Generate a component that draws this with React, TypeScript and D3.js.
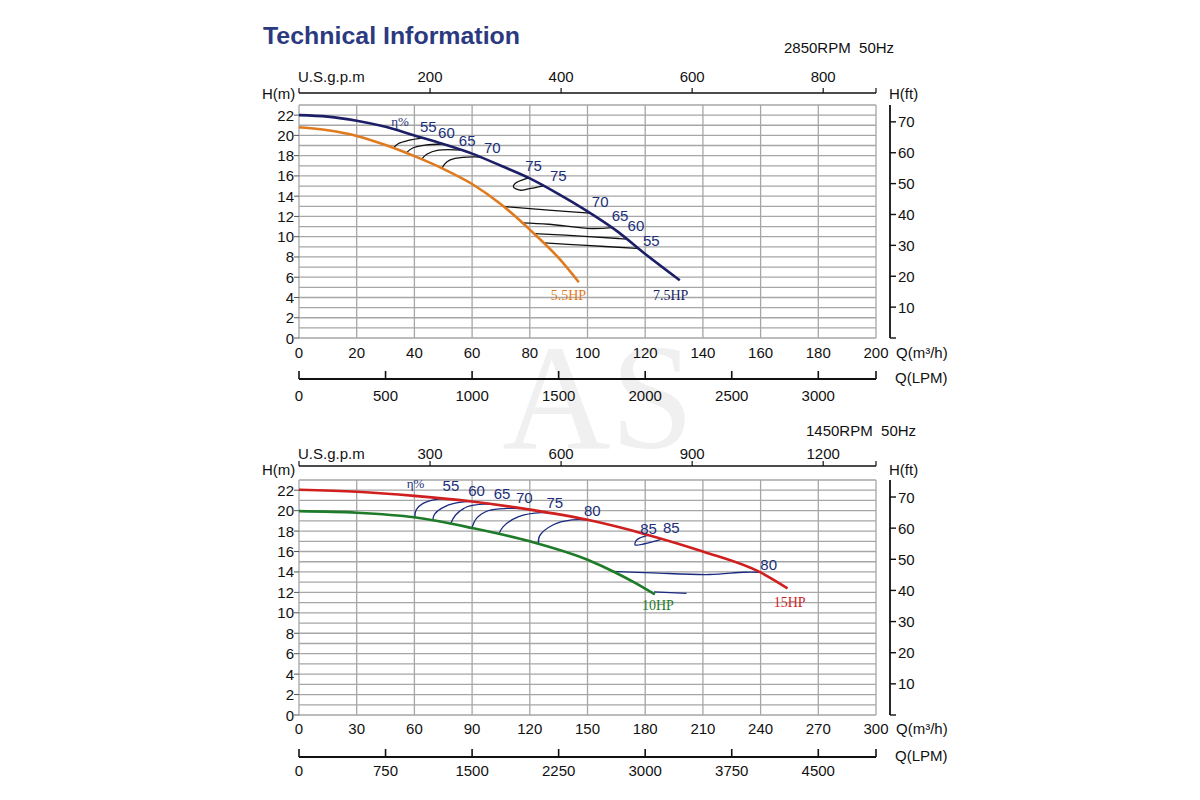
import React, { useEffect, useRef } from 'react';
import * as d3 from 'd3';

const GPM_PER_M3H = 4.4029;
const LPM_PER_M3H = 16.667;
const FT_PER_M = 1 / 0.3048;

// shared axis values
const headTicks = [0, 2, 4, 6, 8, 10, 12, 14, 16, 18, 20, 22];
const ftTicks = [10, 20, 30, 40, 50, 60, 70];

// 2850RPM panel
const topQTicks = [0, 20, 40, 60, 80, 100, 120, 140, 160, 180, 200];
const topGpmTicks = [200, 400, 600, 800];
const topLpmTicks = [0, 500, 1000, 1500, 2000, 2500, 3000];

const curve55HP = [[0, 20.8], [10, 20.5], [20, 19.95], [30, 19.05], [40, 17.95], [50, 16.7], [60, 15.2], [70, 13.2], [80, 10.7], [90, 7.9], [97, 5.5]];
const curve75HP = [[0, 22], [10, 21.85], [20, 21.45], [30, 20.85], [40, 20.0], [50, 19.15], [60, 18.2], [70, 17.0], [80, 15.75], [90, 14.2], [100, 12.5], [110, 10.6], [120, 8.3], [132, 5.7]];

const topIso55L = [[32.7, 18.75], [34.5, 19.2], [37.9, 19.5], [43.1, 19.75]];
const topIso60L = [[37.3, 18.3], [39.1, 18.71], [43.7, 19.03], [50.1, 19.15]];
const topIso65L = [[42.5, 17.65], [44.3, 18.14], [48.3, 18.54], [56.4, 18.55]];
const topIso70L = [[49.5, 16.75], [51.2, 17.38], [54.1, 17.72], [61.0, 17.88], [63.4, 17.8]];
const topIso75 = [[79.5, 15.8], [74.9, 15.25], [74.3, 14.92], [76.6, 14.59], [79.5, 14.72], [84.7, 15.02]];
const topIso70R = [[70.9, 12.98], [86.5, 12.62], [100.9, 12.33]];
const topIso65R = [[77.2, 11.37], [86.5, 11.23], [101.5, 10.81], [108.4, 10.9]];
const topIso60R = [[81.6, 10.3], [92.3, 10.15], [110.8, 9.82], [113.6, 9.77]];
const topIso55R = [[85.1, 9.4], [98, 9.16], [117.1, 8.85], [117.7, 8.83]];

const topEffLabels = [
  { t: 'η%', q: 35, h: 21.4 },
  { t: '55', q: 44.8, h: 20.84 },
  { t: '60', q: 51.1, h: 20.25 },
  { t: '65', q: 58.3, h: 19.53 },
  { t: '70', q: 67.0, h: 18.77 },
  { t: '75', q: 81.3, h: 17.06 },
  { t: '75', q: 89.9, h: 16.0 },
  { t: '70', q: 104.4, h: 13.44 },
  { t: '65', q: 111.3, h: 12.12 },
  { t: '60', q: 116.8, h: 11.07 },
  { t: '55', q: 122.1, h: 9.65 },
];

// 1450RPM panel
const botQTicks = [0, 30, 60, 90, 120, 150, 180, 210, 240, 270, 300];
const botGpmTicks = [300, 600, 900, 1200];
const botLpmTicks = [0, 750, 1500, 2250, 3000, 3750, 4500];

const curve10HP = [[0, 19.95], [30, 19.8], [60, 19.35], [90, 18.3], [120, 17.0], [150, 15.2], [165, 13.9], [175, 12.9], [185, 11.8]];
const curve15HP = [[0, 22.05], [30, 21.85], [60, 21.45], [90, 20.9], [120, 20.1], [150, 19.1], [180, 17.7], [210, 16.0], [240, 13.95], [254, 12.4]];

const botIso55 = [[60.2, 19.35], [60.9, 20.06], [64.5, 20.71], [72.5, 21.13], [80.4, 21.12]];
const botIso60 = [[69.5, 19.05], [70.5, 19.67], [76.4, 20.45], [84.4, 20.83], [90.3, 20.9]];
const botIso65 = [[78.8, 18.7], [81.4, 19.57], [87.4, 20.38], [96.3, 20.64], [104.2, 20.55]];
const botIso70 = [[89.9, 18.3], [92.3, 19.25], [98.3, 19.99], [108.2, 20.22], [115.1, 20.2]];
const botIso75 = [[103.8, 17.7], [106.2, 18.44], [114.2, 19.41], [126.1, 19.8], [134, 19.7]];
const botIso80 = [[124.5, 16.73], [125.1, 17.53], [132, 18.6], [141.9, 19.09], [149.9, 19.1]];
const botIso85 = [[181.7, 17.6], [175.7, 17.15], [174.7, 16.66], [179.7, 16.76], [188.6, 17.21]];
const botIso80R = [[162.8, 14.05], [183.6, 13.91], [213.4, 13.75], [231.3, 13.97], [239.2, 13.97]];
const botIsoTail = [[184.6, 12.06], [201.5, 11.9]];

const botEffLabels = [
  { t: 'η%', q: 60.6, h: 22.65 },
  { t: '55', q: 79, h: 22.42 },
  { t: '60', q: 92.3, h: 22.0 },
  { t: '65', q: 105.6, h: 21.68 },
  { t: '70', q: 117.1, h: 21.26 },
  { t: '75', q: 133, h: 20.77 },
  { t: '80', q: 152.5, h: 19.99 },
  { t: '85', q: 181.7, h: 18.28 },
  { t: '85', q: 193.6, h: 18.38 },
  { t: '80', q: 244.2, h: 14.72 },
];

const SANS = 'Liberation Sans, Arial, sans-serif';
const SERIF = 'Liberation Serif, Times New Roman, serif';
const FS = '15px';

type Pt = number[];
interface Panel {
  qMax: number;
  plotTop: number;
  plotBottom: number;
  gpmAxisY: number;
  gpmLabelY: number;
  qLabelY: number;
  lpmAxisY: number;
  lpmLabelY: number;
  hLabelY: number;
  rpm: string;
  rpmX: number;
  rpmY: number;
  qTicks: number[];
  gpmTicks: number[];
  lpmTicks: number[];
  curves: { pts: Pt[]; color: string; name: string; nq: number; nh: number }[];
  iso: Pt[][];
  isoColor: string;
  effLabels: { t: string; q: number; h: number }[];
}

const panels: Panel[] = [
  {
    qMax: 200, plotTop: 105, plotBottom: 338, gpmAxisY: 93, gpmLabelY: 76, qLabelY: 352,
    lpmAxisY: 379, lpmLabelY: 395, hLabelY: 93, rpm: '2850RPM  50Hz', rpmX: 784, rpmY: 47,
    qTicks: topQTicks, gpmTicks: topGpmTicks, lpmTicks: topLpmTicks,
    curves: [
      { pts: curve55HP, color: '#e07a1f', name: '5.5HP', nq: 93.4, nh: 4.2 },
      { pts: curve75HP, color: '#1c1f66', name: '7.5HP', nq: 128.8, nh: 4.2 },
    ],
    iso: [topIso55L, topIso60L, topIso65L, topIso70L, topIso75, topIso70R, topIso65R, topIso60R, topIso55R],
    isoColor: '#111111',
    effLabels: topEffLabels,
  },
  {
    qMax: 300, plotTop: 480, plotBottom: 715, gpmAxisY: 466, gpmLabelY: 453, qLabelY: 728,
    lpmAxisY: 757, lpmLabelY: 770, hLabelY: 469, rpm: '1450RPM  50Hz', rpmX: 806, rpmY: 430,
    qTicks: botQTicks, gpmTicks: botGpmTicks, lpmTicks: botLpmTicks,
    curves: [
      { pts: curve10HP, color: '#1e7b2a', name: '10HP', nq: 186.6, nh: 10.67 },
      { pts: curve15HP, color: '#d01f1f', name: '15HP', nq: 255.1, nh: 11.0 },
    ],
    iso: [botIso55, botIso60, botIso65, botIso70, botIso75, botIso80, botIso85, botIso80R, botIsoTail],
    isoColor: '#1a2a80',
    effLabels: botEffLabels,
  },
];

const X0 = 299;
const X1 = 876;

function drawPanel(svg: d3.Selection<SVGSVGElement, unknown, null, undefined>, p: Panel) {
  const x = d3.scaleLinear().domain([0, p.qMax]).range([X0, X1]);
  const y = d3.scaleLinear().domain([0, 23]).range([p.plotBottom, p.plotTop]);
  const gpm = d3.scaleLinear().domain([0, p.qMax * GPM_PER_M3H]).range([X0, X1]);
  const lpm = d3.scaleLinear().domain([0, p.qMax * LPM_PER_M3H]).range([X0, X1]);
  const ft = d3.scaleLinear().domain([0, 23 * FT_PER_M]).range([p.plotBottom, p.plotTop]);

  const g = svg.append('g');
  const grid = '#a6a6a6';

  // grid
  g.selectAll('.hg').data(d3.range(0, 24)).join('line')
    .attr('x1', X0).attr('x2', X1)
    .attr('y1', d => y(d)).attr('y2', d => y(d))
    .attr('stroke', grid).attr('stroke-width', 1.3);
  g.selectAll('.vg').data(p.qTicks).join('line')
    .attr('x1', d => x(d)).attr('x2', d => x(d))
    .attr('y1', y(0)).attr('y2', y(23))
    .attr('stroke', grid).attr('stroke-width', 1.3);

  // left head axis
  g.selectAll('.lt').data(headTicks).join('line')
    .attr('x1', X0 - 5).attr('x2', X0)
    .attr('y1', d => y(d)).attr('y2', d => y(d))
    .attr('stroke', '#555').attr('stroke-width', 1);
  g.selectAll('.ll').data(headTicks).join('text')
    .attr('x', 294).attr('y', d => y(d))
    .attr('text-anchor', 'end').attr('dominant-baseline', 'central')
    .style('font-family', SANS).style('font-size', FS).attr('fill', '#111')
    .text(d => d);
  g.append('text').attr('x', 262).attr('y', p.hLabelY).attr('dominant-baseline', 'central')
    .style('font-family', SANS).style('font-size', FS).attr('fill', '#111').text('H(m)');

  // right ft axis
  g.append('line').attr('x1', 890).attr('x2', 890).attr('y1', p.plotTop).attr('y2', p.plotBottom)
    .attr('stroke', '#111').attr('stroke-width', 1.8);
  g.selectAll('.rt').data([0, ...ftTicks]).join('line')
    .attr('x1', 890).attr('x2', 896)
    .attr('y1', d => ft(d)).attr('y2', d => ft(d))
    .attr('stroke', '#111').attr('stroke-width', 1.4);
  g.selectAll('.rl').data(ftTicks).join('text')
    .attr('x', 898).attr('y', d => ft(d)).attr('dominant-baseline', 'central')
    .style('font-family', SANS).style('font-size', FS).attr('fill', '#111')
    .text(d => d);
  g.append('text').attr('x', 889).attr('y', p.hLabelY).attr('dominant-baseline', 'central')
    .style('font-family', SANS).style('font-size', FS).attr('fill', '#111').text('H(ft)');

  // Q m3/h labels
  g.selectAll('.ql').data(p.qTicks).join('text')
    .attr('x', d => x(d)).attr('y', p.qLabelY)
    .attr('text-anchor', 'middle').attr('dominant-baseline', 'central')
    .style('font-family', SANS).style('font-size', FS).attr('fill', '#111')
    .text(d => d);
  g.append('text').attr('x', 896).attr('y', p.qLabelY).attr('dominant-baseline', 'central')
    .style('font-family', SANS).style('font-size', FS).attr('fill', '#111').text('Q(m³/h)');

  // US gpm axis
  g.append('line').attr('x1', X0).attr('x2', X1).attr('y1', p.gpmAxisY).attr('y2', p.gpmAxisY)
    .attr('stroke', '#111').attr('stroke-width', 1.6);
  g.selectAll('.gt').data([0, ...p.gpmTicks, p.qMax * GPM_PER_M3H]).join('line')
    .attr('x1', d => gpm(d)).attr('x2', d => gpm(d))
    .attr('y1', p.gpmAxisY).attr('y2', p.gpmAxisY - 5)
    .attr('stroke', '#111').attr('stroke-width', 1.2);
  g.selectAll('.gl').data(p.gpmTicks).join('text')
    .attr('x', d => gpm(d)).attr('y', p.gpmLabelY)
    .attr('text-anchor', 'middle').attr('dominant-baseline', 'central')
    .style('font-family', SANS).style('font-size', FS).attr('fill', '#111')
    .text(d => d);
  g.append('text').attr('x', 298).attr('y', p.gpmLabelY).attr('dominant-baseline', 'central')
    .style('font-family', SANS).style('font-size', FS).attr('fill', '#111').text('U.S.g.p.m');

  // LPM axis
  g.append('line').attr('x1', X0).attr('x2', X1).attr('y1', p.lpmAxisY).attr('y2', p.lpmAxisY)
    .attr('stroke', '#111').attr('stroke-width', 2);
  g.selectAll('.pt').data([...p.lpmTicks, p.qMax * LPM_PER_M3H]).join('line')
    .attr('x1', d => lpm(d)).attr('x2', d => lpm(d))
    .attr('y1', p.lpmAxisY).attr('y2', p.lpmAxisY - 8)
    .attr('stroke', '#111').attr('stroke-width', 1.6);
  g.selectAll('.pl').data(p.lpmTicks).join('text')
    .attr('x', d => lpm(d)).attr('y', p.lpmLabelY)
    .attr('text-anchor', 'middle').attr('dominant-baseline', 'central')
    .style('font-family', SANS).style('font-size', FS).attr('fill', '#111')
    .text(d => d);
  g.append('text').attr('x', 895).attr('y', p.lpmAxisY - 2).attr('dominant-baseline', 'central')
    .style('font-family', SANS).style('font-size', FS).attr('fill', '#111').text('Q(LPM)');

  // rpm note
  g.append('text').attr('x', p.rpmX).attr('y', p.rpmY).attr('dominant-baseline', 'central')
    .style('font-family', SANS).style('font-size', FS).style('white-space', 'pre').attr('fill', '#111')
    .text(p.rpm);

  const line = d3.line<Pt>().x(d => x(d[0])).y(d => y(d[1]));

  // efficiency lines
  g.selectAll('.iso').data(p.iso).join('path')
    .attr('d', d => line.curve(d3.curveCatmullRom.alpha(0.5))(d))
    .attr('fill', 'none').attr('stroke', p.isoColor).attr('stroke-width', 1.3);

  // head curves
  p.curves.forEach(c => {
    g.append('path')
      .attr('d', line.curve(d3.curveMonotoneX)(c.pts))
      .attr('fill', 'none').attr('stroke', c.color).attr('stroke-width', 2.6);
    g.append('text').attr('x', x(c.nq)).attr('y', y(c.nh))
      .attr('text-anchor', 'middle').attr('dominant-baseline', 'central')
      .style('font-family', SERIF).style('font-size', '14px').attr('fill', c.color)
      .text(c.name);
  });

  // efficiency labels
  g.selectAll('.el').data(p.effLabels).join('text')
    .attr('x', d => x(d.q)).attr('y', d => y(d.h))
    .attr('text-anchor', 'middle').attr('dominant-baseline', 'central')
    .style('font-family', d => (d.t === 'η%' ? SERIF : SANS))
    .style('font-size', d => (d.t === 'η%' ? '13px' : FS))
    .attr('fill', '#1b2f7a')
    .text(d => d.t);
}

export default function App() {
  const ref = useRef<SVGSVGElement>(null);

  useEffect(() => {
    if (!ref.current) return;
    const svg = d3.select(ref.current);
    svg.selectAll('*').remove();

    svg.append('rect').attr('width', 1200).attr('height', 800).attr('fill', '#ffffff');

    // faint watermark
    svg.append('text').attr('x', 598).attr('y', 448).attr('text-anchor', 'middle')
      .style('font-family', SERIF).style('font-size', '150px').attr('fill', '#f0f0f0')
      .text('AS');

    svg.append('text').attr('x', 263).attr('y', 35).attr('dominant-baseline', 'central')
      .attr('textLength', 257).attr('lengthAdjust', 'spacingAndGlyphs')
      .style('font-family', SANS).style('font-size', '24px').style('font-weight', 'bold')
      .attr('fill', '#2b3a80')
      .text('Technical Information');

    panels.forEach(p => drawPanel(svg, p));
  }, []);

  return (
    <svg ref={ref} width={1200} height={800}
      style={{ position: 'absolute', left: 0, top: 0, display: 'block' }} />
  );
}
